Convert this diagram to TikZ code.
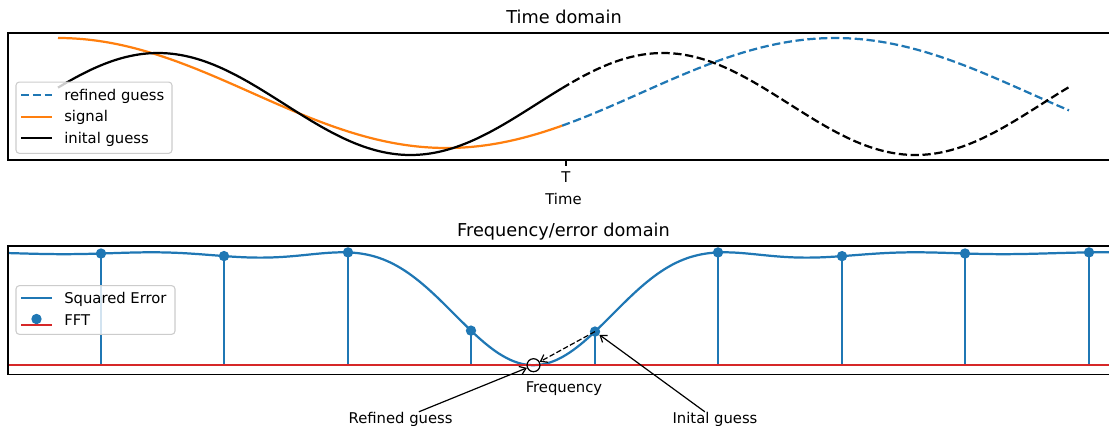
\documentclass[tikz,border=0pt]{standalone}
\usepackage{fontspec}
\setmainfont{DejaVu Sans}
\usetikzlibrary{calc,arrows,arrows.meta}
\definecolor{TabBlue}{HTML}{1F77B4}
\definecolor{TabOrange}{HTML}{FF7F0E}
\definecolor{TabRed}{HTML}{D62728}
\definecolor{LegendGray}{HTML}{CCCCCC}
\tikzset{%
	% Style of the axes frame
	Frame/.style={line width=0.8pt,black},
	% Style of the axes title
	TitleName/.style={font=\fontsize{13.3}{16}\selectfont,black,inner sep=0,anchor=base},
	% Style of the small labels
	LabelName/.style={font=\fontsize{11.1}{13}\selectfont,black,inner sep=0,anchor=base},
	% Style of the legend box
	LegendBox/.style={draw=LegendGray,fill=white,fill opacity=0.8,line width=0.8pt,rounded corners=2.5pt,inner sep=0},
	% Style of the legend text
	LegendName/.style={LabelName,anchor=base west},
	% Style of the curves
	Curve/.style={line width=1.67pt,line join=round},
	DashLine/.style={dash pattern=on 6.2pt off 2.7pt},
	% Style of the stems
	Stem/.style={TabBlue,line width=1.67pt},
	StemMark/.style={circle,fill=TabBlue,inner sep=0,minimum size=7.8pt},
	Baseline/.style={TabRed,line width=1.67pt},
	% Style of the annotation
	Target/.style={circle,draw=black,line width=0.9pt,inner sep=0,minimum size=9.75pt},
	Pointer/.style={-{Straight Barb[length=4.5pt,width=6.5pt]},line width=0.9pt,black},
	PointerDash/.style={Pointer,dash pattern=on 4pt off 1.8pt},
}
% squared error curve (sinc^2 dip)
\newcommand{\SqErr}[1]{252.3 + 112.9*(sin(0.9425*(#1-533.5))/(0.01645*(#1-533.5)))^2}

\begin{document}
\begin{tikzpicture}[x=0.75pt,y=-0.75pt] % STYLES
\useasboundingbox (0,0) rectangle (1109,425);

%~~~~~~~~~~~~~~~~~~~~~~~~~~~~~~~~~~~~~~~~~~~~~~~~~~
% Time domain
%~~~~~~~~~~~~~~~~~~~~~~~~~~~~~~~~~~~~~~~~~~~~~~~~~~
\node[TitleName] (TitleTime) at (564, 23.5) {Time domain};

%refined guess
\draw[Curve, TabBlue, DashLine] plot[domain=562:1069, samples=120] (\x, {93 - 55*cos(0.46332*(\x-58))});
%signal
\draw[Curve, TabOrange] plot[domain=58:562, samples=120] (\x, {93 - 55*cos(0.46332*(\x-58))});
%inital guess
\draw[Curve, black] plot[domain=58:562, samples=120] (\x, {104 - 51*cos(0.71287*(\x-158))});
\draw[Curve, black, DashLine] plot[domain=562:1069, samples=120] (\x, {104 - 51*cos(0.71287*(\x-158))});

\draw[Frame] (1109, 33) -- (8, 33) -- (8, 160) -- (1109, 160);
\coordinate (TickT) at (566, 160);
\draw[Frame] (TickT) -- ++(0, 5.5);
\node[LabelName] (LabelT) at ($ (TickT) + (0, 22.3) $) {T};
\node[LabelName] (LabelTime) at (563.5, 204) {Time};

%legend
\node[LegendBox, minimum width=117pt, minimum height=53.5pt] (LegTop) at (94, 117.7) {};
\draw[Curve, TabBlue, DashLine] (21, 95) -- (52, 95);
\node[LegendName] (LegRefined) at (64, 100) {refined guess};
\draw[Curve, TabOrange] (21, 116.7) -- (52, 116.7);
\node[LegendName] (LegSignal) at (64, 121.7) {signal};
\draw[Curve, black] (21, 138.3) -- (52, 138.3);
\node[LegendName] (LegInital) at (64, 143.3) {inital guess};



%~~~~~~~~~~~~~~~~~~~~~~~~~~~~~~~~~~~~~~~~~~~~~~~~~~
% Frequency/error domain
%~~~~~~~~~~~~~~~~~~~~~~~~~~~~~~~~~~~~~~~~~~~~~~~~~~
\node[TitleName] (TitleFreq) at (563.5, 236.5) {Frequency/error domain};

%squared error
\draw[Curve, TabBlue] plot[domain=8:1109, samples=301] (\x, {\SqErr{\x}});

%stems
\foreach \i/\px in {1/101, 2/224, 3/348, 4/471, 5/595, 6/718, 7/842, 8/965, 9/1089}{
	\pgfmathsetmacro{\py}{\SqErr{\px}}
	\coordinate (B\i) at (\px, 365.3);
	\coordinate (P\i) at (\px, \py);
	\draw[Stem] (B\i) -- (P\i);
}
\coordinate (BaseL) at (8, 365.3);
\coordinate (BaseR) at (1109, 365.3);
\draw[Baseline] (BaseL) -- (BaseR);
\foreach \i in {1,...,9}{
	\node[StemMark] (M\i) at (P\i) {};
}

\draw[Frame] (1109, 246) -- (8, 246) -- (8, 374.5) -- (1109, 374.5);
\node[LabelName] (LabelFreq) at (564, 392.7) {Frequency};

%annotation
\node[Target] (Opt) at (533.5, 365.2) {};
\draw[PointerDash] (P5) -- (Opt);
\node[LabelName] (RefTxt) at (400.6, 423.3) {Refined guess};
\node[LabelName] (IniTxt) at (715, 423.3) {Inital guess};
\draw[Pointer] (RefTxt) -- (Opt);
\draw[Pointer] (IniTxt) -- (M5);

%legend
\node[LegendBox, minimum width=119.25pt, minimum height=36.5pt] (LegBottom) at (95.5, 310) {};
\draw[Curve, TabBlue] (21, 298.3) -- (52, 298.3);
\node[LegendName] (LegError) at (64, 303.3) {Squared Error};
\coordinate (LegStemB) at (36.5, 325);
\coordinate (LegStemT) at (36.5, 319);
\draw[Stem] (LegStemB) -- (LegStemT);
\draw[Baseline] (21, 325) -- (52, 325);
\node[StemMark] (LegDot) at (LegStemT) {};
\node[LegendName] (LegFFT) at (64, 325.7) {FFT};

\end{tikzpicture}
\end{document}
